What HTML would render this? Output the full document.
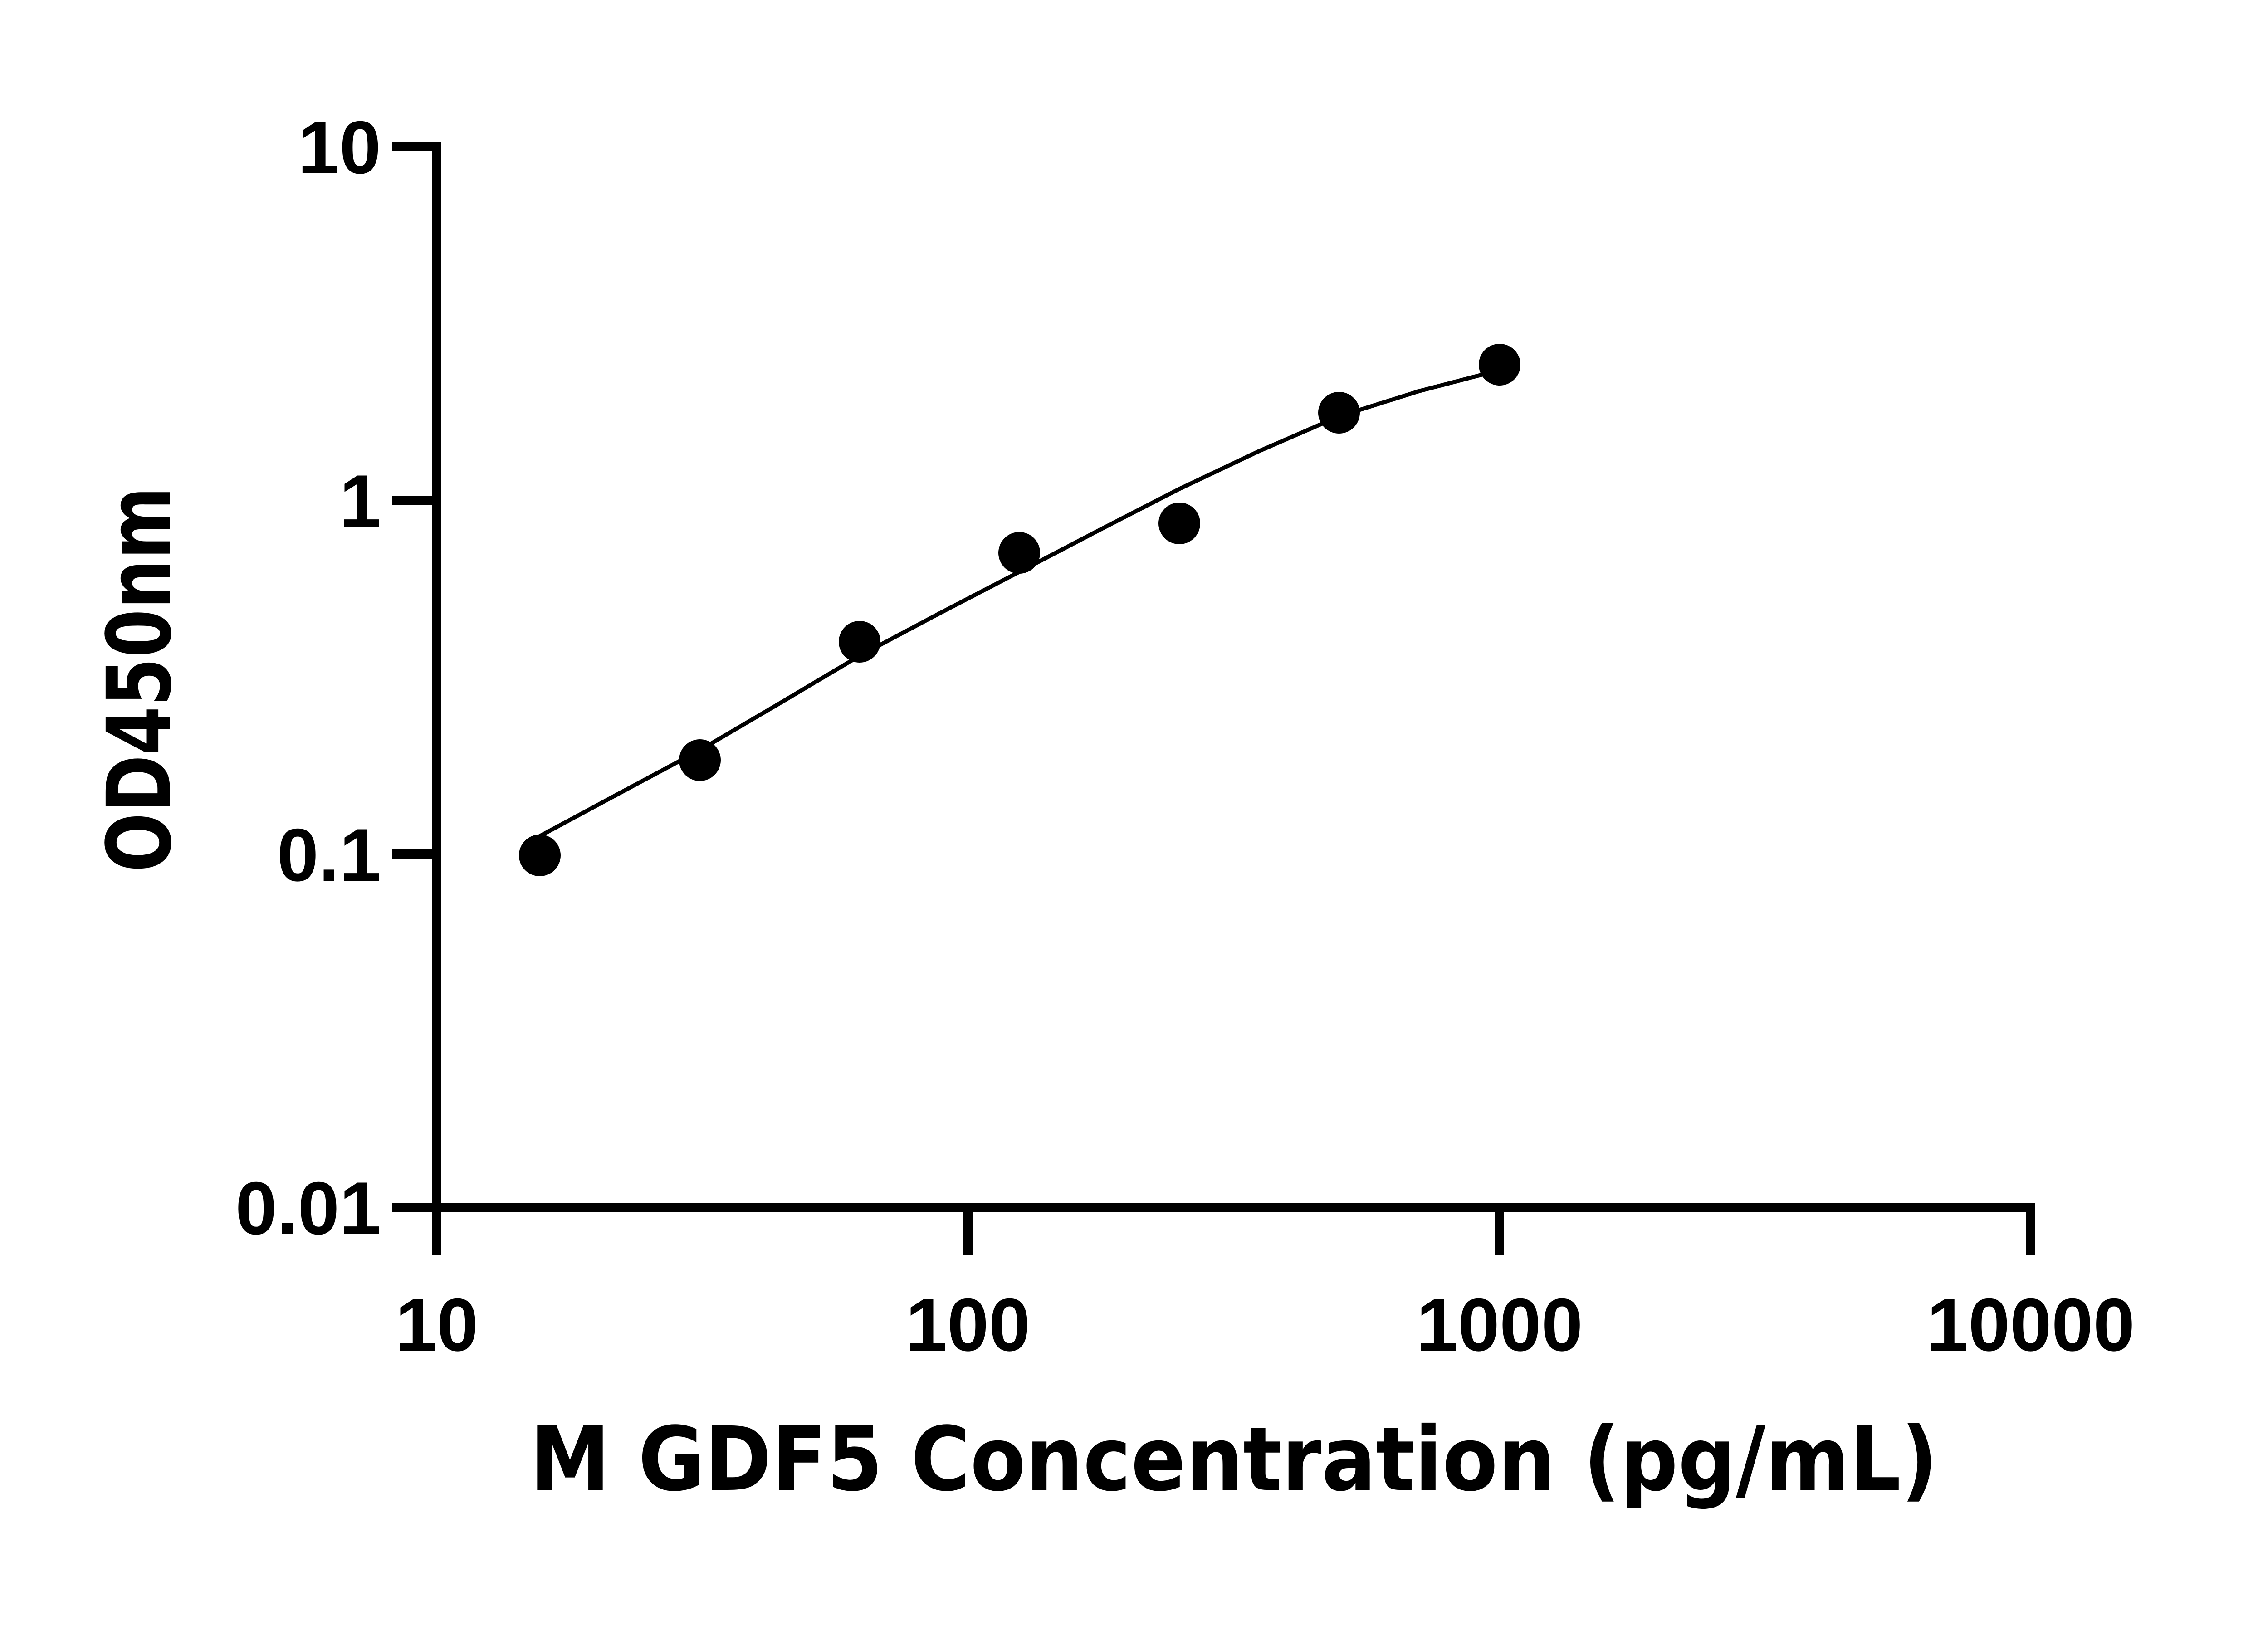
<!DOCTYPE html>
<html><head><meta charset="utf-8"><style>html,body{margin:0;padding:0;background:#fff}</style></head>
<body>
<svg width="5142" height="3600" viewBox="0 0 5142 3600" xmlns="http://www.w3.org/2000/svg">
<rect width="5142" height="3600" fill="#fff"/>
<g stroke="#000" stroke-width="20" fill="none" stroke-linecap="butt">
<line x1="963" y1="313" x2="963" y2="2768"/>
<line x1="953" y1="2662" x2="4487" y2="2662"/>
<line x1="864" y1="323" x2="963" y2="323"/>
<line x1="864" y1="1103" x2="963" y2="1103"/>
<line x1="864" y1="1883" x2="963" y2="1883"/>
<line x1="864" y1="2662" x2="963" y2="2662"/>
<line x1="2134" y1="2662" x2="2134" y2="2768"/>
<line x1="3306" y1="2662" x2="3306" y2="2768"/>
<line x1="4477" y1="2652" x2="4477" y2="2768"/>
</g>
<path d="M1178,1850 L1360,1752 L1543,1654 L1720,1550 L1895,1446 L2070,1353 L2247,1261 L2425,1168 L2600,1078 L2775,995 L2952,918 L3130,862 L3306,816" stroke="#000" stroke-width="9" fill="none"/>
<g fill="#000">
<circle cx="1190" cy="1886" r="46"/>
<circle cx="1543" cy="1676" r="46"/>
<circle cx="1895" cy="1415" r="46"/>
<circle cx="2247" cy="1219" r="46"/>
<circle cx="2600" cy="1154" r="46"/>
<circle cx="2952" cy="910" r="46"/>
<circle cx="3306" cy="804" r="46"/>
</g>
<g font-family="Liberation Sans, sans-serif" font-weight="bold" font-size="165" fill="#000">
<g text-anchor="end">
<text x="840" y="382">10</text>
<text x="840" y="1162">1</text>
<text x="840" y="1942">0.1</text>
<text x="840" y="2721">0.01</text>
</g>
<g text-anchor="middle">
<text x="963" y="2978">10</text>
<text x="2134" y="2978">100</text>
<text x="3306" y="2978">1000</text>
<text x="4477" y="2978">10000</text>
</g>
</g>
<text x="2720" y="3285" text-anchor="middle" font-family="DejaVu Sans, sans-serif" font-weight="bold" font-size="195" textLength="3104" lengthAdjust="spacingAndGlyphs">M GDF5 Concentration (pg/mL)</text>
<text transform="translate(375,1498) rotate(-90)" text-anchor="middle" font-family="DejaVu Sans, sans-serif" font-weight="bold" font-size="195" textLength="850" lengthAdjust="spacingAndGlyphs">OD450nm</text>
</svg>
</body></html>
